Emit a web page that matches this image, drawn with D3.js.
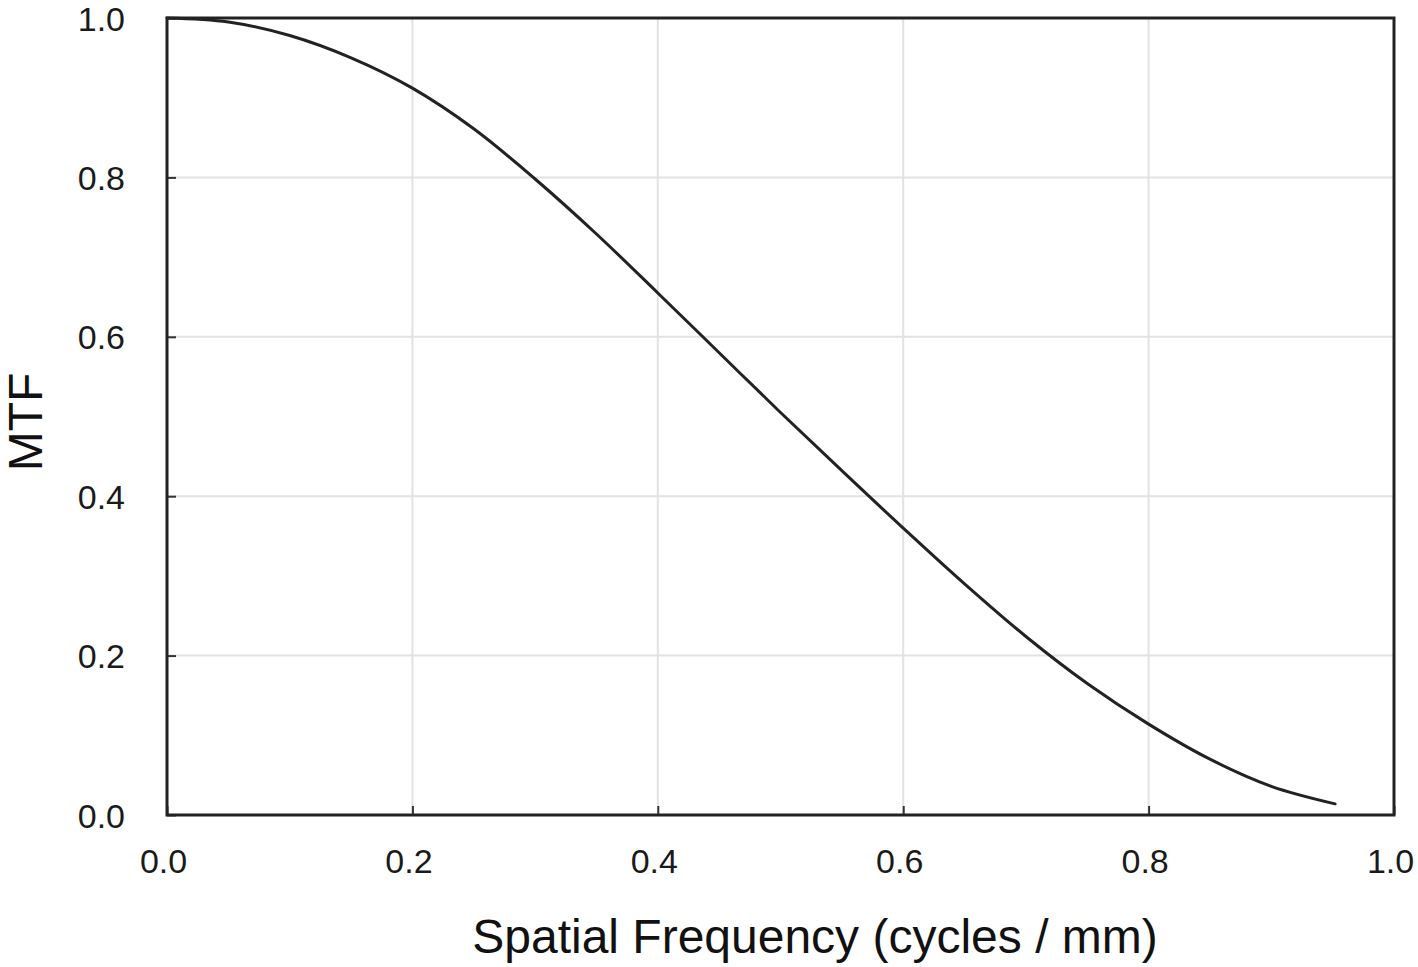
<!DOCTYPE html>
<html>
<head>
<meta charset="utf-8">
<script src="https://cdn.jsdelivr.net/npm/d3@7"></script>
<style>
html,body{margin:0;padding:0;background:#fff;}
svg{display:block;}
</style>
</head>
<body>
<svg id="chart" width="1418" height="967"></svg>
<script>
// Data
const freq = [0, 0.05, 0.1, 0.15, 0.2, 0.25, 0.3, 0.35, 0.4, 0.45, 0.5, 0.55, 0.6, 0.65, 0.7, 0.75, 0.8, 0.85, 0.9, 0.952];
const mtf  = [1.0, 0.995, 0.978, 0.950, 0.912, 0.861, 0.798, 0.729, 0.655, 0.580, 0.505, 0.432, 0.360, 0.290, 0.224, 0.165, 0.114, 0.070, 0.036, 0.014];
const xTicks = [0, 0.2, 0.4, 0.6, 0.8, 1.0];
const yTicks = [0, 0.2, 0.4, 0.6, 0.8, 1.0];
const xTitle = "Spatial Frequency (cycles / mm)";
const yTitle = "MTF";

const svg = d3.select("#chart");
const m = {left:167, right:1394, top:18, bottom:815};
const x = d3.scaleLinear().domain([0,1]).range([m.left, m.right]);
const y = d3.scaleLinear().domain([0,1]).range([m.bottom, m.top]);
const font = "Liberation Sans, Arial, Helvetica, sans-serif";

// grid
const g = svg.append("g");
g.selectAll("line.gx").data(xTicks.slice(1,-1)).join("line")
  .attr("x1", d=>x(d)).attr("x2", d=>x(d)).attr("y1", m.top).attr("y2", m.bottom)
  .attr("stroke", "#e2e2e2").attr("stroke-width", 2);
g.selectAll("line.gy").data(yTicks.slice(1,-1)).join("line")
  .attr("y1", d=>y(d)).attr("y2", d=>y(d)).attr("x1", m.left).attr("x2", m.right)
  .attr("stroke", "#e2e2e2").attr("stroke-width", 2);

// axes with inward ticks
const xAxis = d3.axisBottom(x).tickValues(xTicks).tickFormat(d3.format(".1f")).tickSizeInner(-9).tickSizeOuter(0).tickPadding(38);
const yAxis = d3.axisLeft(y).tickValues(yTicks).tickFormat(d3.format(".1f")).tickSizeInner(-9).tickSizeOuter(0).tickPadding(52);

const gx = svg.append("g").attr("transform", `translate(0,${m.bottom})`).call(xAxis);
const gy = svg.append("g").attr("transform", `translate(${m.left},0)`).call(yAxis);
[gx, gy].forEach(a => {
  a.select(".domain").remove();
  a.selectAll(".tick line").attr("stroke", "#333").attr("stroke-width", 2);
  a.selectAll(".tick text").attr("font-family", font).attr("font-size", 34).attr("fill", "#1a1a1a");
});
gx.selectAll(".tick text").attr("dx", -4).attr("dy", 0).attr("y", 58);
gy.selectAll(".tick text").attr("dy", 12).attr("x", -42);

// curve
const line = d3.line().x((d,i)=>x(freq[i])).y(d=>y(d)).curve(d3.curveCatmullRom.alpha(0.5));
svg.append("path").datum(mtf).attr("d", line)
  .attr("fill", "none").attr("stroke", "#222").attr("stroke-width", 3).attr("stroke-linecap", "round");

// frame
svg.append("rect").attr("x", m.left).attr("y", m.top)
  .attr("width", m.right - m.left).attr("height", m.bottom - m.top)
  .attr("fill", "none").attr("stroke", "#222").attr("stroke-width", 3);

// titles
svg.append("text").attr("x", 815).attr("y", 953).attr("text-anchor", "middle")
  .attr("font-family", font).attr("font-size", 48).attr("fill", "#111").text(xTitle);
svg.append("text").attr("transform", "translate(42,422) rotate(-90)").attr("text-anchor", "middle")
  .attr("font-family", font).attr("font-size", 48).attr("fill", "#111").text(yTitle);
</script>
</body>
</html>
